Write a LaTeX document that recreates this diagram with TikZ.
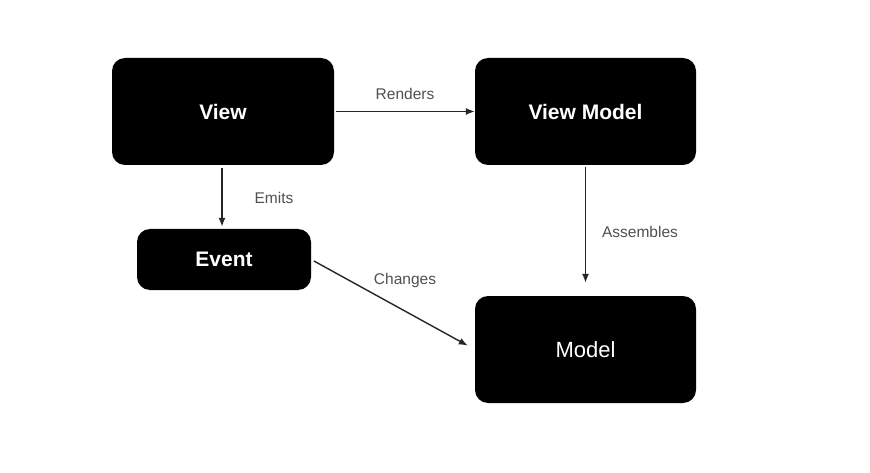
\documentclass[tikz,border=0pt]{standalone}
\usepackage{fontspec}
\setmainfont{Liberation Sans}
\usetikzlibrary{arrows.meta}
\definecolor{labelgray}{HTML}{505050}

\begin{document}
\begin{tikzpicture}[x=1pt,y=-1pt,
  box/.style={fill=black,text=white,rounded corners=13pt,inner sep=0pt,font=\fontsize{21}{25}\selectfont},
  link/.style={-{Latex[length=9pt,width=7pt]},line width=1.4pt,draw=black!85},
  tag/.style={text=labelgray,font=\fontsize{15.5}{18}\selectfont}]
  \useasboundingbox (0,0) rectangle (870,473);
  \node[box,font=\fontsize{21}{25}\selectfont\bfseries,minimum width=222pt,minimum height=107pt] (view) at (223,111.5) {View};
  \node[box,font=\fontsize{21}{25}\selectfont\bfseries,minimum width=221pt,minimum height=107pt] (viewmodel) at (585.5,111.5) {View Model};
  \node[box,font=\fontsize{21}{25}\selectfont\bfseries,minimum width=174pt,minimum height=61pt] (event) at (224,259.5) {Event};
  \node[box,font=\fontsize{22}{26}\selectfont,minimum width=221pt,minimum height=107pt] (model) at (585.5,349.5) {Model};
  \draw[link,shorten <=2pt] (view) -- (viewmodel);
  \draw[link,shorten <=3pt,shorten >=2pt] (view.south -| 222,0) -- (event.north -| 222,0);
  \draw[link,shorten <=2pt,shorten >=13pt] (viewmodel.south) -- (model.north);
  \draw[link,shorten <=3pt,shorten >=8pt] (event.east) -- (model.west);
  \node[tag] (renders) at (405,94) {Renders};
  \node[tag] (emits) at (274,198) {Emits};
  \node[tag] (assembles) at (640,232) {Assembles};
  \node[tag] (changes) at (405,280) {Changes};
\end{tikzpicture}
\end{document}
